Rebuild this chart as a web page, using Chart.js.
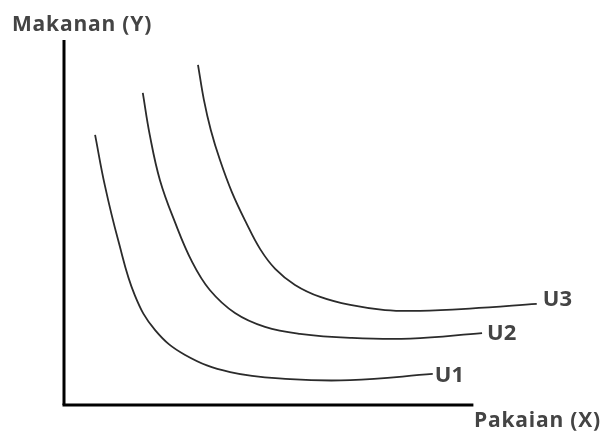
<!DOCTYPE html>
<html>
<head>
<meta charset="utf-8">
<script src="https://cdn.jsdelivr.net/npm/chart.js@4"></script>
<style>
html,body{margin:0;padding:0;background:#fff;}
#wrap{width:609px;height:433px;position:relative;}
</style>
</head>
<body>
<div id="wrap"><canvas id="c" width="609" height="433"></canvas></div>
<script>
// Indifference curves (x = Pakaian, y = Makanan), arbitrary units 0..100
const curveNames = ["U1", "U2", "U3"];
const u1X = [5.8, 7.6, 10.1, 13.2, 17.0, 22.6, 31.0, 42.2, 53.4, 68.8];
const u1Y = [74.0, 60.3, 45.2, 30.1, 20.5, 13.7, 9.0, 7.1, 6.8, 8.5];
const u2X = [14.7, 16.0, 17.9, 20.7, 23.9, 27.2, 31.9, 37.5, 44.0, 53.4, 64.6, 78.0];
const u2Y = [85.5, 74.0, 61.6, 50.1, 39.2, 31.5, 25.2, 21.4, 19.5, 18.4, 18.2, 19.7];
const u3X = [25.0, 26.1, 27.4, 29.1, 31.3, 34.0, 36.6, 39.4, 43.1, 47.8, 53.4, 59.9, 66.4, 75.7, 88.2];
const u3Y = [93.2, 83.6, 75.3, 67.1, 58.4, 49.9, 42.7, 37.3, 32.9, 29.6, 27.4, 26.0, 25.8, 26.4, 27.7];
const axisXEnd = 76.1;
const axisYEnd = 100;
const yTitle = "Makanan (Y)";
const xTitle = "Pakaian (X)";

const toPts = (xs, ys) => xs.map((x, i) => ({x: x, y: ys[i]}));
const curves = [toPts(u1X, u1Y), toPts(u2X, u2Y), toPts(u3X, u3Y)];

const curveStyle = {
  borderColor: '#2b2b2b', borderWidth: 1.8, pointRadius: 0, showLine: true,
  tension: 0.4, fill: false, clip: false
};
const datasets = curves.map((pts, i) => Object.assign({label: curveNames[i], data: pts}, curveStyle));
datasets.push({label: 'axisX', data: [{x: 0, y: 0}, {x: axisXEnd, y: 0}], borderColor: '#000', borderWidth: 3, pointRadius: 0, showLine: true, clip: false, borderCapStyle: 'square'});
datasets.push({label: 'axisY', data: [{x: 0, y: 0}, {x: 0, y: axisYEnd}], borderColor: '#000', borderWidth: 3, pointRadius: 0, showLine: true, clip: false, borderCapStyle: 'butt'});

// label offsets (px) from each curve's end point
const labelOffsets = [[2, 2], [5, 1], [6, -4]];

const textPlugin = {
  id: 'texts',
  afterDatasetsDraw(chart) {
    const ctx = chart.ctx;
    const xs = chart.scales.x, ys = chart.scales.y;
    ctx.save();
    ctx.fillStyle = '#444444';
    ctx.textBaseline = 'middle';
    ctx.textAlign = 'left';
    ctx.font = '700 22px "Open Sans"';
    curves.forEach((pts, i) => {
      const p = pts[pts.length - 1];
      ctx.fillText(curveNames[i], xs.getPixelForValue(p.x) + labelOffsets[i][0], ys.getPixelForValue(p.y) + labelOffsets[i][1]);
    });
    ctx.font = '700 21px "Open Sans"';
    try { ctx.letterSpacing = '0.8px'; } catch (e) {}
    ctx.fillText(yTitle, 12, 25);
    ctx.fillText(xTitle, 474, 421);
    ctx.restore();
  }
};

new Chart(document.getElementById('c'), {
  type: 'scatter',
  data: {datasets: datasets},
  options: {
    responsive: false,
    animation: false,
    layout: {padding: {left: 64, top: 40, right: 9, bottom: 28}},
    plugins: {legend: {display: false}, tooltip: {enabled: false}},
    scales: {
      x: {type: 'linear', min: 0, max: 100, display: false},
      y: {type: 'linear', min: 0, max: 100, display: false}
    }
  },
  plugins: [textPlugin]
});
</script>
</body>
</html>
